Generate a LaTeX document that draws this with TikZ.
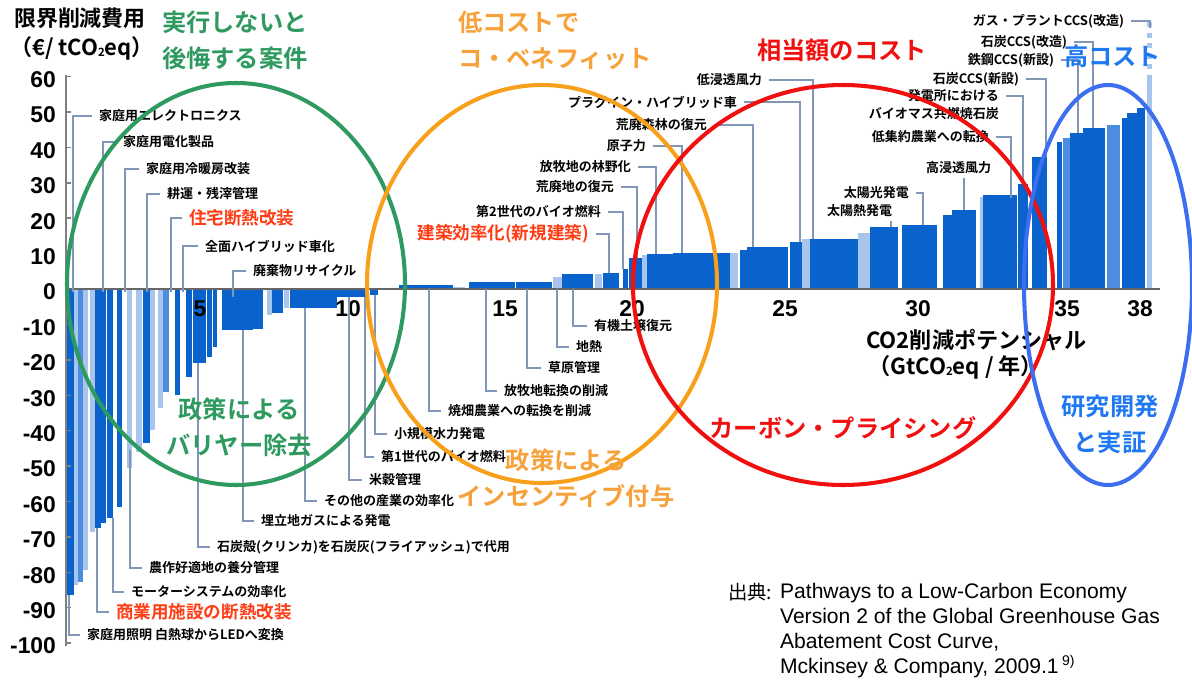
\documentclass[tikz,border=0pt]{standalone}
\usepackage{fontspec}
\setmainfont{Liberation Sans}
\newfontfamily\jp{Noto Sans CJK JP}[BoldFont={Noto Sans CJK JP Bold}]
\usepackage{tikz}
\definecolor{bard}{HTML}{0A62CC}
\definecolor{barm}{HTML}{4C8DE0}
\definecolor{barl}{HTML}{A8C5EE}
\definecolor{leadc}{HTML}{8297B8}
\definecolor{grn}{HTML}{2E9A60}
\definecolor{org}{HTML}{F8A01C}
\definecolor{orgt}{HTML}{F7A13A}
\definecolor{rd}{HTML}{F01010}
\definecolor{rdl}{HTML}{FF3C14}
\definecolor{blu}{HTML}{3C6EF0}
\definecolor{blut}{HTML}{1E78F0}
\newcommand\ctwo{\raisebox{-0.15ex}{\fontsize{6.5}{7}\selectfont 2}}

\begin{document}
\begin{tikzpicture}[x=0.02cm,y=-0.02cm]
\tikzstyle{every node}=[inner sep=1pt]
\tikzstyle{lbl}=[font=\jp\bfseries\fontsize{7.4}{8}\selectfont]
\tikzstyle{lblr}=[font=\jp\bfseries\fontsize{10}{11}\selectfont,text=rdl]
\tikzstyle{big}=[font=\jp\bfseries\fontsize{13.8}{20.5}\selectfont]
\tikzstyle{num}=[font=\bfseries\fontsize{13}{14}\selectfont]
\tikzstyle{lead}=[draw=leadc,line width=1pt,shorten <=3pt]
\tikzstyle{ring}=[line width=2.3pt]
\useasboundingbox (0,0) rectangle (1192,679);

\foreach \a/\b/\t/\c in {67/74/595/bard,74/78/585/barl,78/83/582/barm,83/88/570/barl,
90/95/532/barl,95/101/528/bard,101/106/523/bard,107/113/518/bard,117/122/507/bard,
127/132/468/barl,136/142/452/barl,143/150/443/bard,150/155/430/barl,158/163/408/barl,
163/169/392/barm,175/180/395/bard,186/192/377/bard,193/206/363/bard,207/212/357/bard,
213/217/347/bard,222/253/330/bard,253/263/329/bard,267/272/315/barl,272/283/313/bard,
284/289/308/barl,290/337/308/bard,337/367/297/bard,370/378/295/bard,
399/453/285/bard,453/465/287/barl,469/515/282/bard,516/552/282/bard,553/562/277/barl,
562/593/274/bard,595/602/274/barl,603/619/273/bard,623/628/269/bard,629/642/258/bard,
642/647/255/barl,647/673/254/bard,673/730/253/bard,730/738/253/barl,740/747/250/bard,
747/788/247/bard,790/802/242/bard,802/810/239/barl,810/858/239/bard,858/870/233/barl,
870/898/227/bard,902/937/225/bard,943/952/215/bard,952/976/210/bard,980/983/197/barl,
983/1017/195/bard,1018/1028/184/bard,1032/1047/157/bard,1057/1062/142/bard,
1063/1070/138/barm,1070/1083/133/bard,1083/1105/128/bard,1107/1120/125/barm,
1122/1127/118/bard,1127/1137/113/bard,1137/1145/108/bard,1147/1152/78/barl}
\fill[\c] (\a,289) rectangle (\b,\t);
\draw[barl,line width=2.5pt,dashed] (1149.5,22) -- (1149.5,78);

\draw[gray,line width=1.1pt] (66,75) -- (66,646);
\foreach \v in {60,50,...,-100}{
\draw[gray,line width=0.8pt] (66,289-3.54*\v) -- (71,289-3.54*\v);
\node[num,anchor=east] (ty\v) at (58,292-3.54*\v) {\v};
}
\draw[gray!80!black,line width=1.5pt] (66,289) -- (1160,289);
\foreach \x/\n in {200/5,348/10,505/15,632/20,785/25,918/30,1067/35,1140/38}
\node[num] (tx\n) at (\x,309) {\n};

\node[font=\jp\bfseries\fontsize{12.5}{15}\selectfont,anchor=west] (ytitle) at (12,18) {限界削減費用};
\node[font=\jp\bfseries\fontsize{12.5}{15}\selectfont,anchor=west] (yunit) at (8,48) {（€/ tCO\ctwo eq）};
\node[font=\jp\bfseries\fontsize{12.6}{15}\selectfont,anchor=west] (xtitle) at (864,340) {CO2削減ポテンシャル};
\node[font=\jp\bfseries\fontsize{12.6}{15}\selectfont,anchor=west] (xunit) at (866,367) {（GtCO\ctwo eq / 年）};

\node[lbl,anchor=west] (hel) at (97,116) {家庭用エレクトロニクス};
\node[lbl,anchor=west] (hed) at (121,142) {家庭用電化製品};
\node[lbl,anchor=west] (hac) at (144,169) {家庭用冷暖房改装};
\node[lbl,anchor=west] (til) at (165,194) {耕運・残滓管理};
\node[lblr,anchor=west] (ins) at (187,218) {住宅断熱改装};
\node[lbl,anchor=west] (hyb) at (203,246) {全面ハイブリッド車化};
\node[lbl,anchor=west] (rec) at (251,271) {廃棄物リサイクル};
\coordinate (bhel) at (73,292);
\coordinate (bhed) at (103,292);
\coordinate (bhac) at (125,292);
\coordinate (btil) at (147,292);
\coordinate (bins) at (171,292);
\coordinate (bhyb) at (183,292);
\coordinate (brec) at (233,297);
\foreach \n in {hel,hed,hac,til,ins,hyb,rec} \draw[lead] (\n.west) -| (b\n);

\node[lbl,anchor=west] (led) at (85,635) {家庭用照明 白熱球からLEDへ変換};
\node[lblr,anchor=west] (com) at (114,612) {商業用施設の断熱改装};
\node[lbl,anchor=west] (mot) at (129,592) {モーターシステムの効率化};
\node[lbl,anchor=west] (nut) at (147,568) {農作好適地の養分管理};
\node[lbl,anchor=west] (cln) at (215,547) {石炭殻(クリンカ)を石炭灰(フライアッシュ)で代用};
\node[lbl,anchor=west] (lfg) at (259,521) {埋立地ガスによる発電};
\node[lbl,anchor=west] (ind) at (322,501) {その他の産業の効率化};
\node[lbl,anchor=west] (ric) at (367,480) {米穀管理};
\node[lbl,anchor=west] (bfa) at (379,457) {第1世代のバイオ燃料};
\node[lbl,anchor=west] (hyd) at (392,434) {小規模水力発電};
\node[lbl,anchor=west] (slb) at (446,411) {焼畑農業への転換を削減};
\node[lbl,anchor=west] (pas) at (502,391) {放牧地転換の削減};
\node[lbl,anchor=west] (grs) at (546,368) {草原管理};
\node[lbl,anchor=west] (geo) at (574,347) {地熱};
\node[lbl,anchor=west] (soi) at (592,326) {有機土壌復元};
\coordinate (bled) at (69,595);
\coordinate (bcom) at (97,528);
\coordinate (bmot) at (113,518);
\coordinate (bnut) at (130,450);
\coordinate (bcln) at (198,363);
\coordinate (blfg) at (243,330);
\coordinate (bind) at (305,308);
\coordinate (bric) at (349,297);
\coordinate (bbfa) at (365,297);
\coordinate (bhyd) at (375,295);
\coordinate (bslb) at (429,289);
\coordinate (bpas) at (486,289);
\coordinate (bgrs) at (527,289);
\coordinate (bgeo) at (557,289);
\coordinate (bsoi) at (573,289);
\foreach \n in {led,com,mot,nut,cln,lfg,ind,ric,bfa,hyd,slb,pas,grs,geo,soi}
\draw[lead,shorten <=0pt,shorten >=3pt] (b\n) |- (\n.west);

\node[lblr,anchor=east] (bef) at (591,234) {建築効率化(新規建築)};
\node[lbl,anchor=east] (bfb) at (603,212) {第2世代のバイオ燃料};
\node[lbl,anchor=east] (dgl) at (616,187) {荒廃地の復元};
\node[lbl,anchor=east] (pfr) at (633,167) {放牧地の林野化};
\node[lbl,anchor=east] (nuc) at (648,146) {原子力};
\node[lbl,anchor=east] (dgf) at (709,125) {荒廃森林の復元};
\node[lbl,anchor=east] (phv) at (739,102) {プラグイン・ハイブリッド車};
\node[lbl,anchor=east] (low) at (764,80) {低浸透風力};
\node[lbl,anchor=east] (sol) at (911,193) {太陽光発電};
\node[lbl,anchor=east] (lag) at (991,137) {低集約農業への転換};
\node[lbl,anchor=east] (bma) at (1001,96) {発電所における};
\node[lbl,anchor=east] (bmb) at (1001,114) {バイオマス共燃焼石炭};
\node[lbl,anchor=east] (ccn) at (1021,79) {石炭CCS(新設)};
\node[lbl,anchor=east] (stl) at (1056,60) {鉄鋼CCS(新設)};
\node[lbl,anchor=east] (ccr) at (1069,42) {石炭CCS(改造)};
\node[lbl,anchor=east] (gas) at (1126,21) {ガス・プラントCCS(改造)};
\coordinate (bbef) at (609,273);
\coordinate (bbfb) at (623,269);
\coordinate (bdgl) at (637,258);
\coordinate (bpfr) at (656,254);
\coordinate (bnuc) at (682,253);
\coordinate (bdgf) at (753,247);
\coordinate (bphv) at (800,242);
\coordinate (blow) at (813,239);
\coordinate (bsol) at (923,225);
\coordinate (blag) at (1011,198);
\coordinate (bbma) at (1023,184);
\coordinate (bccn) at (1046,157);
\coordinate (bstl) at (1078,133);
\coordinate (bccr) at (1093,128);
\coordinate (bgas) at (1150,28);
\foreach \n in {bef,bfb,dgl,pfr,nuc,dgf,phv,low,sol,lag,bma,ccn,stl,ccr,gas}
\draw[lead] (\n.east) -| (b\n);

\node[lbl,anchor=west] (sth) at (825,211) {太陽熱発電};
\node[lbl,anchor=west] (hiw) at (924,168) {高浸透風力};
\coordinate (bsth) at (891,227);
\coordinate (bhiw) at (964,210);
\draw[lead,shorten <=1pt] (sth.south -| bsth) -- (bsth);
\draw[lead,shorten <=1pt] (hiw.south -| bhiw) -- (bhiw);

\draw[ring,grn] (236,284) ellipse [x radius=169,y radius=201];
\draw[ring,org] (542,284) ellipse [x radius=175,y radius=199];
\draw[ring,rd] (843,285) ellipse [x radius=210,y radius=200];
\draw[ring,blu] (1108,285) ellipse [x radius=84,y radius=200];

\node[big,text=grn,anchor=west,align=left] (nrg) at (160,40) {実行しないと\\後悔する案件};
\node[big,text=orgt,anchor=west,align=left] (cob) at (456,40) {低コストで\\コ・ベネフィット};
\node[big,text=rd,anchor=west] (mid) at (755,50) {相当額のコスト};
\node[big,text=blut,anchor=west] (hic) at (1062,56) {高コスト};
\node[big,text=grn,align=center] (bar) at (239,427) {政策による\\バリヤー除去};
\node[big,text=orgt,align=center] (inc) at (566,478) {政策による\\インセンティブ付与};
\node[big,text=rd] (cpr) at (843,428) {カーボン・プライシング};
\node[big,text=blut,align=center] (rnd) at (1110,424) {研究開発\\と実証};

\node[font=\jp\fontsize{11}{14}\selectfont,anchor=west] (src) at (726,592) {出典:};
\node[font=\fontsize{12}{14.2}\selectfont,anchor=north west,align=left] (ref) at (778,581)
{Pathways to a Low-Carbon Economy\\Version 2 of the Global Greenhouse Gas\\Abatement Cost Curve,\\Mckinsey \& Company, 2009.1\,\textsuperscript{9)}};
\end{tikzpicture}
\end{document}
